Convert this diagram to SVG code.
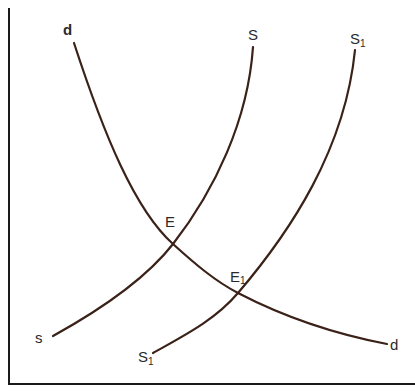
<svg xmlns="http://www.w3.org/2000/svg" width="415" height="392" viewBox="0 0 415 392">
<style>
.axis{stroke:#1a1a1a;stroke-width:2;fill:none}
.curve{stroke:#3a2218;stroke-width:2.2;fill:none;stroke-linecap:round}
.lbl{font-family:"Liberation Sans",Arial,sans-serif;font-size:15px;fill:#2a2a2a}
.sm{font-size:10px}
</style>
<rect width="415" height="392" fill="#ffffff"/>
<g id="axes">
<path class="axis" d="M9,8 V384 H415"/>
</g>
<g id="connectors">
<path id="curve-d" class="curve" d="M74,43 C104,135 135,210 173,244 C195,264 215,281 238,293 C290,320 340,335 387,344"/>
<path id="curve-s" class="curve" d="M53,336 C100,310 145,280 173,244 C215,190 248,120 253,47"/>
<path id="curve-s1" class="curve" d="M153,353 C185,335 215,320 238,293 C290,232 345,150 355,50"/>
</g>
<g id="label-d-top"><text class="lbl" x="63" y="35" font-weight="bold" font-size="17" fill="#111">d</text></g>
<g id="label-s-top"><text class="lbl" x="248" y="40">S</text></g>
<g id="label-s1-top"><text class="lbl" x="350" y="44" fill="#5a3a30">S<tspan class="sm" dy="3">1</tspan></text></g>
<g id="label-s-bottom"><text class="lbl" x="35" y="343" fill="#555">s</text></g>
<g id="label-s1-bottom"><text class="lbl" x="138" y="362" fill="#555">S<tspan class="sm" dy="3">1</tspan></text></g>
<g id="label-d-bottom"><text class="lbl" x="390" y="350" fill="#555">d</text></g>
<g id="label-e"><text class="lbl" x="165" y="227" font-size="12" fill="#6a4a3a">E</text></g>
<g id="label-e1"><text class="lbl" x="230" y="282" font-size="12" fill="#6a4a3a">E<tspan class="sm" dy="2">1</tspan></text></g>
</svg>
